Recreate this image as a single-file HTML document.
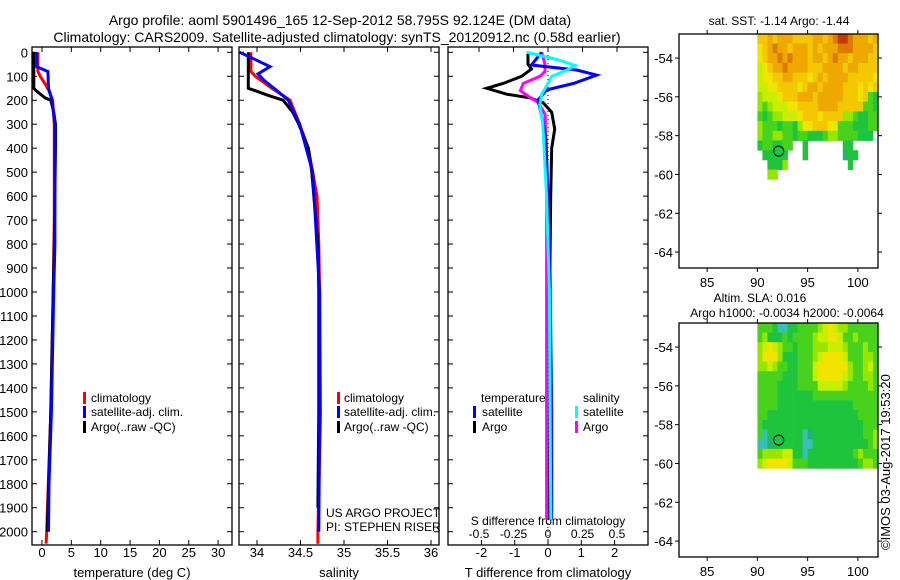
<!DOCTYPE html>
<html><head><meta charset="utf-8"><style>
html,body{margin:0;padding:0;background:#fff;}
svg{display:block;font-family:"Liberation Sans",sans-serif;}
</style></head><body>
<svg id="c" width="900" height="580" viewBox="0 0 900 580" xmlns="http://www.w3.org/2000/svg">
<text x="340" y="25" font-size="14" text-anchor="middle">Argo profile: aoml 5901496_165 12-Sep-2012 58.795S 92.124E (DM data)</text>
<text x="337" y="42" font-size="14" text-anchor="middle">Climatology: CARS2009. Satellite-adjusted climatology: synTS_20120912.nc (0.58d earlier)</text>
<g id="g"></g>
</svg>
<script>
// ---------- data ----------
const depthTicks=[0,100,200,300,400,500,600,700,800,900,1000,1100,1200,1300,1400,1500,1600,1700,1800,1900,2000];
const tempTicks=[0,5,10,15,20,25,30];
const salTicks=[34,34.5,35,35.5,36];
const dTTicks=[-2,-1,0,1,2];
const dSTicks=[-0.5,-0.25,0,0.25,0.5];
const lonTicks=[85,90,95,100];
const latTicks=[-54,-56,-58,-60,-62,-64];

const tClimD=[0,80,100,130,160,200,300,700,1000,1500,2000,2050];
const tClimV=[-0.7,-0.7,-0.3,0.5,1.2,1.8,2.1,2.1,1.9,1.5,0.8,0.7];
const tSatD=[0,60,80,150,200,300,800,1000,1500,1800,2000];
const tSatV=[-0.9,-0.9,1.0,1.1,1.7,2.2,2.2,2.0,1.6,1.2,1.1];
const tArgoD=[0,150,160,190,200,250,300,380,800,1000,1500,1900,2000];
const tArgoV=[-1.4,-1.4,-1.0,0.5,1.5,2.0,2.3,2.3,2.1,1.9,1.5,1.0,0.9];

const sClimD=[0,80,100,150,200,300,400,500,600,800,1000,1500,2000,2050];
const sClimV=[33.93,33.93,33.98,34.17,34.38,34.49,34.59,34.64,34.69,34.71,34.72,34.73,34.70,34.70];
const sSatD=[0,20,60,90,120,160,200,300,500,1000,1500,2000];
const sSatV=[33.80,33.92,34.15,34.01,34.09,34.23,34.36,34.49,34.64,34.72,34.72,34.71];
const sArgoD=[0,150,160,180,200,250,300,400,500,800,1000,1500,1900];
const sArgoV=[33.90,33.90,33.98,34.13,34.30,34.41,34.48,34.59,34.63,34.70,34.71,34.71,34.70];

const dtSatD=[0,53,74,95,130,157,199,268,365,800,1500,1950];
const dtSatV=[-0.19,-0.5,0.86,1.46,0.76,-0.04,-0.3,-0.19,-0.06,0.05,0.11,0.11];
const dtArgoD=[0,50,70,100,130,150,175,190,210,250,320,400,600,1000,1950];
const dtArgoV=[-0.6,-0.6,-0.5,-0.79,-1.35,-1.84,-1.24,-0.55,-0.15,0.11,0.2,0.11,0.08,0.05,0.05];
const dsSatD=[0,30,55,75,100,140,175,220,300,600,1000,1950];
const dsSatV=[-0.154,0.063,0.196,0.135,0.027,-0.01,-0.046,-0.06,-0.038,-0.01,0.01,0.02];
const dsArgoD=[0,50,80,100,130,160,185,210,260,600,1000,1950];
const dsArgoV=[-0.046,-0.022,-0.022,-0.058,-0.18,-0.2,-0.14,-0.07,-0.02,-0.01,-0.01,-0.01];

const sstRows=[
"332322233332232100122232",
"432122322232322211122223",
"432212122232232122322233",
"543221222233322223223333",
"544332233343232222333334",
"554433334322322223334343",
"655543332223222223334378",
"676555443333222233333778",
"787665554333433336678877",
"677787786443334477788877",
"67766778778887667777888.",
"8778877..8.......88.....",
".88888...8.......988....",
"..8886............8.....",
"..66...................."];
const slaRows=[
"7778aa887777654566777777",
"768887877776554457767777",
"654567787776665556777677",
"644468887776544445777667",
"665677887775444444677657",
"777778887775444445677667",
"777788887777555556777767",
"777788888887777777777777",
"777788888888888888877777",
"778888888888888888887777",
"788888888888888888888777",
"7a8888888a98888888888776",
"aa9888888aa8888888888876",
"766665588a88888888876777",
"654444577788888888887667"];
const palette={"0":"#c03c00","1":"#dc7a00","2":"#eea800","3":"#f4c800","4":"#f0e400","5":"#c8ee00","6":"#96e600","7":"#48d21e","8":"#1ec43c","9":"#22b46e","a":"#38c0b8"};

// ---------- helpers ----------
const NS="http://www.w3.org/2000/svg";
const G=document.getElementById('g');
function el(t,a,p){const e=document.createElementNS(NS,t);for(const k in a)e.setAttribute(k,a[k]);(p||G).appendChild(e);return e;}
const yD=d=>52.3+d*0.2397;
const P1={l:32,r:232,t:47,b:545}, P2={l:239,r:439,t:47,b:545}, P3={l:448,r:648,t:47,b:545};
const xT=v=>42+v*5.87, xS=v=>257+(v-34)*87, xdT=v=>548+v*33.3, xdS=v=>548+v*138;

function frame(P,name){
  const r=el('rect',{x:P.l,y:P.t,width:P.r-P.l,height:P.b-P.t,fill:'none',stroke:'#000','stroke-width':1.3});
  
  
  depthTicks.forEach(d=>{el('line',{x1:P.l,x2:P.l+5,y1:yD(d),y2:yD(d),stroke:'#000'});el('line',{x1:P.r,x2:P.r-5,y1:yD(d),y2:yD(d),stroke:'#000'});});
}
function xticks(P,ticks,fx,ylab,top,name){
  ticks.forEach(v=>{const x=fx(v);
    el('line',{x1:x,x2:x,y1:P.b,y2:P.b-5,stroke:'#000'});
    if(top)el('line',{x1:x,x2:x,y1:P.t,y2:P.t+5,stroke:'#000'});
    const t=el('text',{x:x,y:ylab,'font-size':13,'text-anchor':'middle'});t.textContent=v;
    
    });
}
function line(D,V,fx,col,name){
  const pts=D.map((d,i)=>fx(V[i]).toFixed(1)+','+yD(d).toFixed(1)).join(' ');
  const p=el('polyline',{points:pts,fill:'none',stroke:col,'stroke-width':3,'stroke-linejoin':'miter'});
  
  
}
function txt(x,y,s,fs,anchor,name){const t=el('text',{x:x,y:y,'font-size':fs||12,'text-anchor':anchor||'start'});t.textContent=s;
  
  return t;}
function bar(x,y,col,name){const r=el('rect',{x:x,y:y-10,width:3,height:12,fill:col});
  
  }

// panel 1
frame(P1,'temperature-panel');
depthTicks.forEach(d=>{const t=txt(28,yD(d)+5,d,13,'end','depth-tick-label');});
xticks(P1,tempTicks,xT,557,true,'temperature-tick-label');
txt(132,577,'temperature (deg C)',13,'middle','temperature-axis-title');
line(tClimD,tClimV,xT,'#f00','temp-climatology-line');
line(tArgoD,tArgoV,xT,'#000','temp-argo-line');
line(tSatD,tSatV,xT,'#00f','temp-satellite-line');
bar(83,402,'#f00','legend-climatology-swatch');txt(91,402,'climatology',12,'start','legend-climatology');
bar(83,416,'#00f','legend-satellite-swatch');txt(91,416,'satellite-adj. clim.',12,'start','legend-satellite');
bar(83,431,'#000','legend-argo-swatch');txt(91,431,'Argo(..raw -QC)',12,'start','legend-argo');

// panel 2
frame(P2,'salinity-panel');
xticks(P2,salTicks,xS,557,true,'salinity-tick-label');
txt(339,577,'salinity',13,'middle','salinity-axis-title');
line(sClimD,sClimV,xS,'#f00','sal-climatology-line');
line(sArgoD,sArgoV,xS,'#000','sal-argo-line');
line(sSatD,sSatV,xS,'#00f','sal-satellite-line');
bar(337,402,'#f00','legend2-climatology-swatch');txt(344,402,'climatology',12,'start','legend2-climatology');
bar(337,416,'#00f','legend2-satellite-swatch');txt(344,416,'satellite-adj. clim.',12,'start','legend2-satellite');
bar(337,431,'#000','legend2-argo-swatch');txt(344,431,'Argo(..raw -QC)',12,'start','legend2-argo');
txt(326,517,'US ARGO PROJECT',12,'start','project-label');
txt(326,531,'PI: STEPHEN RISER',12,'start','pi-label');

// panel 3
frame(P3,'difference-panel');
el('line',{x1:548,x2:548,y1:P3.t,y2:P3.b,stroke:'#000','stroke-dasharray':'1,3'});
xticks(P3,dTTicks,xdT,557,false,'dt-tick-label');
dSTicks.forEach(v=>{const x=xdS(v);el('line',{x1:x,x2:x,y1:P3.t,y2:P3.t+5,stroke:'#000'});
  const t=txt(x,538,v,12,'middle','ds-tick-label');});
txt(548,525,'S difference from climatology',12,'middle','s-diff-axis-title');
txt(548,577,'T difference from climatology',13,'middle','t-diff-axis-title');
line(dtArgoD,dtArgoV,xdT,'#000','dt-argo-line');
line(dsArgoD,dsArgoV,xdS,'#f0f','ds-argo-line');
line(dtSatD,dtSatV,xdT,'#00f','dt-satellite-line');
line(dsSatD,dsSatV,xdS,'#0ff','ds-satellite-line');
txt(481,402,'temperature',12,'start','legend3-temperature');
txt(583,402,'salinity',12,'start','legend3-salinity');
bar(473,416,'#00f','legend3-tsat-swatch');txt(482,416,'satellite',12,'start','legend3-tsat');
bar(473,431,'#000','legend3-targo-swatch');txt(482,431,'Argo',12,'start','legend3-targo');
bar(575,416,'#0ff','legend3-ssat-swatch');txt(583,416,'satellite',12,'start','legend3-ssat');
bar(575,431,'#f0f','legend3-sargo-swatch');txt(583,431,'Argo',12,'start','legend3-sargo');

// maps
function map(top,rows,name,circFill){
  const L=679,R=878,B=top+234;
  const xL=lon=>L+(lon-82.2)*10.05, yL=lat=>top+(-52.76-lat)*19.4;
  rows.forEach((row,ri)=>{for(let ci=0;ci<24;ci++){const ch=row[ci];if(!ch||ch==='.')continue;
    const r=el('rect',{x:xL(90+ci*0.5).toFixed(1),y:Math.max(top,yL(-52.75-ri*0.5)).toFixed(1),width:5.4,height:10.1,fill:palette[ch]});
    
    }});
  const f=el('rect',{x:L,y:top,width:R-L,height:B-top,fill:'none',stroke:'#000','stroke-width':1.3});
  
  
  latTicks.forEach(v=>{const y=yL(v);el('line',{x1:L-4,x2:L,y1:y,y2:y,stroke:'#000'});el('line',{x1:R,x2:R+4,y1:y,y2:y,stroke:'#000'});
    txt(L-6,y+5,v,13,'end',name+'-lat-label');});
  lonTicks.forEach(v=>{const x=xL(v);el('line',{x1:x,x2:x,y1:B,y2:B+4,stroke:'#000'});el('line',{x1:x,x2:x,y1:top-4,y2:top,stroke:'#000'});
    txt(x,B+19,v,13,'middle',name+'-lon-label');});
  const c=el('circle',{cx:xL(92.124),cy:yL(-58.795),r:5,fill:circFill,stroke:'#000','stroke-width':1});
  
  
}
map(34,sstRows,'sst-map','#1ec43c');
map(323,slaRows,'sla-map','none');
txt(779,25,'sat. SST: -1.14 Argo: -1.44',12,'middle','sst-map-title');
txt(760,302,'Altim. SLA: 0.016',12,'middle','sla-map-title');
txt(787,317,'Argo h1000: -0.0034 h2000: -0.0064',12,'middle','sla-map-subtitle');
const cr=txt(0,0,'©IMOS 03-Aug-2017 19:53:20',13,'start','imos-credit');
cr.setAttribute('transform','translate(890,550) rotate(-90)');
</script>
</body></html>
